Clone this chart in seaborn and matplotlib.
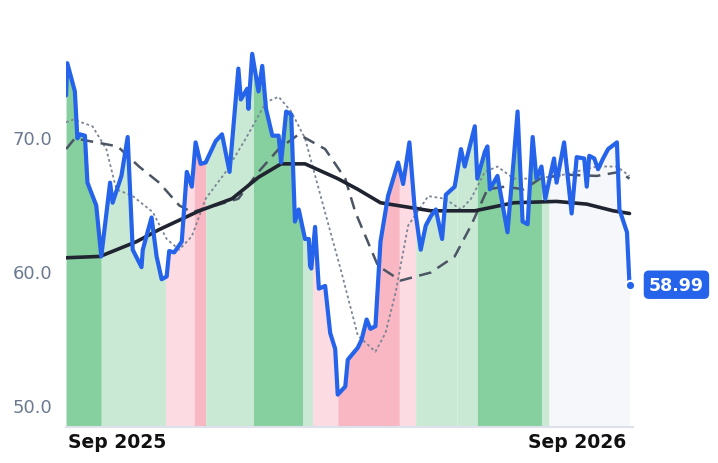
import numpy as np
import pandas as pd
import matplotlib
matplotlib.use("Agg")
import matplotlib.pyplot as plt
import matplotlib.dates as mdates
import seaborn as sns

sns.set_theme(style="white")
plt.rcParams['font.family'] = ['DejaVu Sans']

start = pd.Timestamp("2025-07-22")

price_days = [0,1,7,9,11,15,17,24,28,35,37,44,49,53,60,61,68,72,76,80,82,86,92,96,100,103,107,111,116,119,124,130,137,139,144,145,148,153,156,159,164,169,171,175,179,182,185,190,193,194,195,198,201,206,210,214,216,222,224,232,235,239,242,246,250,256,264,268,273,277,282,286,290,294,299,302,309,314,317,321,325,327,333,335,337,343,351,356,359,363,367,371,374,378,381,388,390,396,402,406,412,414,416,420,423,427,431,438,440,446,448]
price_vals = [73.1,75.5,73.4,69.9,70.2,70.1,66.6,64.9,61.1,66.6,65.1,67.1,70.0,61.6,60.3,61.6,64.0,61.1,59.4,59.6,61.5,61.4,62.2,67.4,66.3,69.6,68.0,68.1,69.1,69.7,70.2,67.4,75.1,72.8,73.6,72.1,76.2,73.4,75.3,72.1,70.1,70.1,68.1,71.9,71.7,63.7,64.6,62.4,62.4,60.4,60.2,63.3,58.7,58.9,55.4,54.2,50.8,51.4,53.4,54.3,54.9,56.4,55.7,55.9,62.2,65.6,68.1,66.5,69.6,64.9,61.6,63.4,64.1,64.6,62.4,65.7,66.3,69.1,67.8,69.3,70.8,66.9,68.9,69.3,66.1,67.1,62.9,68.4,71.9,63.7,63.5,70.0,66.9,67.8,65.4,68.4,66.6,69.6,64.3,68.5,68.4,66.3,68.6,68.4,67.6,68.4,69.1,69.6,64.6,62.9,58.99]

long_days = [0,27,56,74,106,132,153,171,190,216,232,250,290,325,356,390,414,435,448]
long_vals = [61.0,61.1,62.2,63.1,64.5,65.4,67.0,68.0,68.0,66.9,66.1,65.1,64.5,64.5,65.1,65.2,65.0,64.5,64.3]

mid_days = [0,7,24,41,58,74,90,100,119,137,153,169,185,206,222,230,248,266,290,309,322,335,349,364,377,396,422,440,448]
mid_vals = [69.1,69.9,69.6,69.3,67.8,66.6,64.9,64.4,64.9,65.4,67.4,69.1,70.2,69.1,66.9,64.4,60.4,59.3,59.9,61.1,63.4,66.1,66.3,66.1,66.9,67.2,67.1,67.4,66.9]

short_days = [0,6,21,32,40,53,69,80,90,100,111,127,143,159,169,179,190,203,219,232,246,254,262,272,288,301,314,322,333,343,356,374,396,422,438,448]
short_vals = [71.1,71.3,70.8,69.1,66.1,65.6,64.4,62.4,61.6,62.6,65.4,67.4,69.9,72.6,73.0,71.9,69.9,65.4,59.9,55.2,54.0,55.4,58.4,63.4,65.6,65.4,64.6,65.4,67.4,67.8,66.9,66.9,67.2,67.8,67.8,67.1]

seg_start = [0,28,79,102,111,149,188,196,216,265,278,311,327,378,384]
seg_end   = [28,79,102,111,149,188,196,216,265,278,311,327,378,384,448]
seg_kind  = ["strong_up","up","down","strong_down","up","strong_up","up","down","strong_down","down","up","up","strong_up","up","neutral"]
kind_color = {"strong_up":"#86cf9f","up":"#c9e9d5","down":"#fddbe2","strong_down":"#f9b7c4","neutral":"#f6f7fa"}

def to_dates(days):
    return start + pd.to_timedelta(days, unit="D")

price = pd.DataFrame({"date": to_dates(price_days), "v": price_vals})
longma = pd.DataFrame({"date": to_dates(long_days), "v": long_vals})
midma = pd.DataFrame({"date": to_dates(mid_days), "v": mid_vals})
shortma = pd.DataFrame({"date": to_dates(short_days), "v": short_vals})

fig = plt.figure(figsize=(7.18, 4.64), dpi=100)
ax = fig.add_axes([0.092, 0.078, 0.79, 0.879])

ymin, ymax = 48.4, 78.8
for s, e, k in zip(seg_start, seg_end, seg_kind):
    d = np.arange(s, e + 1)
    top = np.interp(d, price_days, price_vals)
    ax.fill_between(to_dates(d), ymin, top, color=kind_color[k], lw=0, zorder=1)

sns.lineplot(data=shortma, x="date", y="v", ax=ax, color="#7b8594", lw=1.3, linestyle=(0, (1.5, 1.5)), zorder=3)
sns.lineplot(data=midma, x="date", y="v", ax=ax, color="#4b5563", lw=1.8, linestyle=(0, (5, 3)), zorder=3)
sns.lineplot(data=longma, x="date", y="v", ax=ax, color="#1f2430", lw=2.6, zorder=4)
sns.lineplot(data=price, x="date", y="v", ax=ax, color="#2563eb", lw=3, zorder=5)

last_d = price["date"].iloc[-1]; last_v = price["v"].iloc[-1]
ax.scatter([last_d], [last_v], s=45, color="#2563eb", edgecolor="white", lw=1.5, zorder=6, clip_on=False)
ax.annotate(f"{last_v:.2f}", xy=(last_d, last_v), xytext=(14, 0), textcoords="offset points",
            ha="left", va="center", color="white", fontsize=12.5, fontweight="bold",
            bbox=dict(boxstyle="round,pad=0.3,rounding_size=0.3", fc="#2563eb", ec="none"), zorder=7,
            annotation_clip=False)

ax.set_xlim(to_dates([0])[0], to_dates([451])[0])
ax.set_ylim(ymin, ymax)
ax.set_yticks([50, 60, 70])
ax.set_yticklabels(["50.0", "60.0", "70.0"])
ax.tick_params(axis="y", colors="#6b7a90", labelsize=13, length=0, pad=10)
ax.set_xticks([pd.Timestamp("2025-09-01"), pd.Timestamp("2026-09-01")])
ax.xaxis.set_major_formatter(mdates.DateFormatter("%b %Y"))
ax.tick_params(axis="x", colors="#111111", labelsize=13.5, length=0, pad=4)
for lab in ax.get_xticklabels():
    lab.set_fontweight("bold")
ax.set_xlabel(""); ax.set_ylabel("")
for s in ["top", "right", "left"]:
    ax.spines[s].set_visible(False)
ax.spines["bottom"].set_color("#dde2ea")
ax.spines["bottom"].set_linewidth(1.5)
ax.grid(False)

fig.savefig("out.png", dpi=100)
